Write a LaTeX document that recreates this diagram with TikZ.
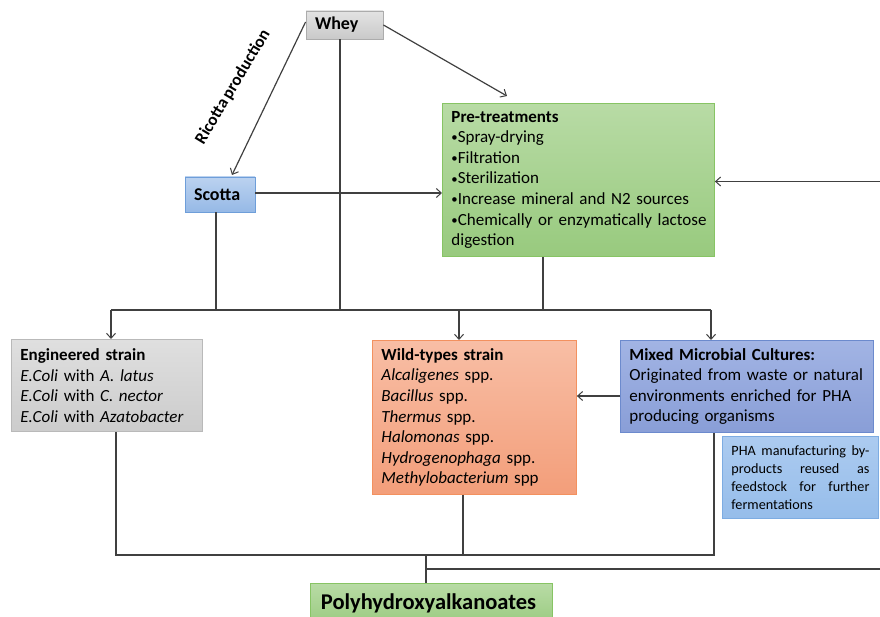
\documentclass[tikz,border=0pt]{standalone}
\usepackage{fontspec}
\setmainfont{Carlito}[WordSpace=0.75]
\usetikzlibrary{arrows.meta,calc}
\definecolor{lineC}{HTML}{404040}
\newcommand{\bul}{\raisebox{0.12ex}{\scalebox{0.75}{•}}}
\tikzset{
  box/.style={draw, line width=0.9pt, inner xsep=9pt, inner ysep=2pt, align=left,
    anchor=north west, font=\fontsize{17}{20.6}\selectfont},
  smallbox/.style={draw, line width=0.9pt, inner xsep=9pt, inner ysep=2pt, anchor=center, align=left,
    font=\bfseries\fontsize{18}{20}\selectfont},
  grayA/.style={top color=gray!22, bottom color=gray!42, draw=gray!65},
  grayB/.style={top color=gray!25, bottom color=gray!40, draw=gray!55},
  blueA/.style={top color={rgb,255:red,187;green,210;blue,240}, bottom color={rgb,255:red,150;green,185;blue,230}, draw={rgb,255:red,110;green,158;blue,217}},
  greenA/.style={top color={rgb,255:red,184;green,219;blue,165}, bottom color={rgb,255:red,152;green,202;blue,126}, draw={rgb,255:red,135;green,196;blue,100}},
  orangeA/.style={top color={rgb,255:red,248;green,190;blue,165}, bottom color={rgb,255:red,243;green,158;blue,122}, draw={rgb,255:red,243;green,145;blue,95}},
  purpleA/.style={top color={rgb,255:red,162;green,180;blue,228}, bottom color={rgb,255:red,137;green,158;blue,215}, draw={rgb,255:red,108;green,138;blue,205}},
  lblueA/.style={top color={rgb,255:red,172;green,203;blue,240}, bottom color={rgb,255:red,150;green,189;blue,234}, draw={rgb,255:red,125;green,172;blue,226}},
  conn/.style={draw=lineC, line width=1.2pt},
  arr/.style={conn, -{Straight Barb[length=5pt,width=9pt,line width=1pt]}},
}
\begin{document}
\begin{tikzpicture}[x=1pt,y=-1pt]
\useasboundingbox (0,0) rectangle (880,617);
\begin{scope}
\clip (0,0) rectangle (880,617);
% nodes
\node[smallbox, grayA, minimum width=77pt, minimum height=28pt, text width=59pt] (whey) at (344.5,25) {Whey};
\node[smallbox, blueA, minimum width=70pt, minimum height=35pt, text width=52pt] (scotta) at (220,194.5) {Scotta};
\node[box, greenA, minimum width=272pt, minimum height=153pt, text width=254pt] (pre) at (442,103)
  {\textbf{Pre-treatments}\\
   \bul Spray-drying\\
   \bul Filtration\\
   \bul Sterilization\\
   \bul Increase mineral and N2 sources\\
   \mbox{\bul Chemically or enzymatically lactose}\\
   digestion};
\node[box, grayB, minimum width=191pt, minimum height=92pt, text width=173pt] (eng) at (11,339)
  {\textbf{Engineered strain}\\
   \textit{E.Coli} with \textit{A. latus}\\
   \textit{E.Coli} with \textit{C. nector}\\
   \textit{E.Coli} with \textit{Azatobacter}};
\node[box, orangeA, minimum width=204pt, minimum height=154pt, text width=186pt] (wild) at (372,340)
  {\textbf{Wild-types strain}\\
   \textit{Alcaligenes} spp.\\
   \textit{Bacillus} spp.\\
   \textit{Thermus} spp.\\
   \textit{Halomonas} spp.\\
   \textit{Hydrogenophaga} spp.\\
   \textit{Methylobacterium} spp};
\node[box, purpleA, minimum width=253pt, minimum height=92pt, text width=235pt] (mixed) at (620,340)
  {\textbf{Mixed Microbial Cultures:}\\
   Originated from waste or natural\\
   environments enriched for PHA\\
   producing organisms};
\node[box, lblueA, minimum width=156pt, minimum height=82pt, text width=138pt, inner xsep=9pt,
  font=\fontsize{14.2}{18}\selectfont] (pha) at (722,436)
  {\makebox[138pt][l]{PHA\hfill manufacturing\hfill by-}\\
   \makebox[138pt][l]{products\hfill reused\hfill as}\\
   \makebox[138pt][l]{feedstock\hfill for\hfill further}\\
   fermentations};
\node[draw, line width=0.9pt, greenA, minimum width=242pt, minimum height=44pt, anchor=north west] (poly) at (310,583) {};
\node[font=\bfseries\fontsize{22.5}{24}\selectfont, anchor=base] (polyt) at (428.5,609) {Polyhydroxyalkanoates};
\node[font=\bfseries\fontsize{17}{18}\selectfont, rotate=59] (ric) at (233,87) {Ricotta production};
% coordinates
\coordinate (scIn) at (232,175);
\coordinate (preIn) at (507,96);
\coordinate (fbR) at (880,181.5);
\coordinate (b0) at (111,310);
\coordinate (bw) at (340,310);
\coordinate (bs) at (216,310);
\coordinate (bp) at (543,310);
\coordinate (b2) at (459,310);
\coordinate (b3) at (711,310);
\coordinate (mIn) at (620,396);
\coordinate (c0) at (116,555);
\coordinate (cw) at (463,555);
\coordinate (cm) at (714,555);
\coordinate (cj) at (426,555);
\coordinate (dj) at (426,569);
\coordinate (dR) at (880,569);
% connectors
\draw[arr] ([yshift=3pt]whey.west) -- (scIn);
\draw[arr] (whey.east) -- (preIn);
\draw[conn] (whey.south -| bw) -- (bw);
\draw[arr] (scotta.east |- 0,193) -- (pre.west |- 0,193);
\draw[arr] (fbR) -- (fbR -| pre.east);
\draw[conn] (scotta.south -| bs) -- (bs);
\draw[conn] (pre.south -| bp) -- (bp);
\draw[conn] (b0) -- (b3);
\draw[arr] (b0) -- (b0 |- eng.north);
\draw[arr] (b2) -- (b2 |- wild.north);
\draw[arr] (b3) -- (b3 |- mixed.north);
\draw[arr] (mIn) -- (mIn -| wild.east);
\draw[conn] (eng.south -| c0) -- (c0) -- (cm) -- (mixed.south -| cm);
\draw[conn] (wild.south -| cw) -- (cw);
\draw[conn] (cj) -- (poly.north -| cj);
\draw[conn] (dj) -- (dR);
\end{scope}
\end{tikzpicture}
\end{document}
